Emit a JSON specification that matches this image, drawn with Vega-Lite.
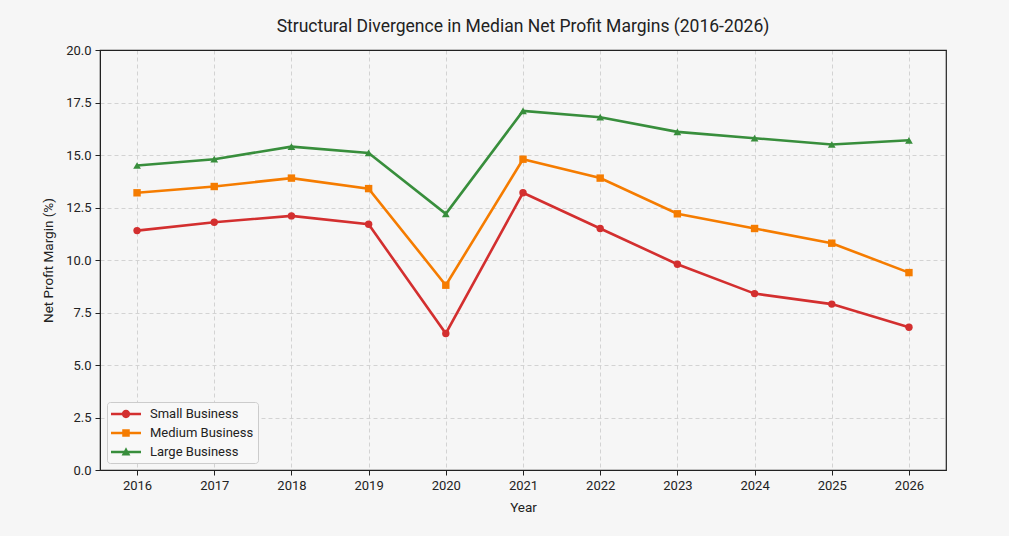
{
  "$schema": "https://vega.github.io/schema/vega-lite/v6.json",
  "description": "Median net profit margins by business size, 2016-2026.",
  "autosize": {"type": "none"},
  "width": 846,
  "height": 420,
  "padding": {"left": 100, "top": 50, "right": 63, "bottom": 66},
  "background": "#f6f6f6",
  "title": {
    "text": "Structural Divergence in Median Net Profit Margins (2016-2026)",
    "fontSize": 17.5,
    "fontWeight": "normal",
    "color": "#222",
    "offset": 9
  },
  "config": {
    "font": "Roboto",
    "view": {"fill": "#f6f6f6", "stroke": "#222", "strokeWidth": 1.2},
    "axis": {
      "labelFontSize": 13,
      "labelColor": "#222",
      "titleFontSize": 13.5,
      "titleFontWeight": "normal",
      "titleColor": "#222",
      "domainColor": "#222",
      "tickColor": "#222",
      "tickSize": 5,
      "gridColor": "#cfcfcf",
      "gridDash": [4, 3],
      "gridWidth": 0.9
    }
  },
  "data": {
    "values": [
      {"year": 2016, "business": "Small Business", "margin": 11.4},
      {"year": 2017, "business": "Small Business", "margin": 11.8},
      {"year": 2018, "business": "Small Business", "margin": 12.1},
      {"year": 2019, "business": "Small Business", "margin": 11.7},
      {"year": 2020, "business": "Small Business", "margin": 6.5},
      {"year": 2021, "business": "Small Business", "margin": 13.2},
      {"year": 2022, "business": "Small Business", "margin": 11.5},
      {"year": 2023, "business": "Small Business", "margin": 9.8},
      {"year": 2024, "business": "Small Business", "margin": 8.4},
      {"year": 2025, "business": "Small Business", "margin": 7.9},
      {"year": 2026, "business": "Small Business", "margin": 6.8},
      {"year": 2016, "business": "Medium Business", "margin": 13.2},
      {"year": 2017, "business": "Medium Business", "margin": 13.5},
      {"year": 2018, "business": "Medium Business", "margin": 13.9},
      {"year": 2019, "business": "Medium Business", "margin": 13.4},
      {"year": 2020, "business": "Medium Business", "margin": 8.8},
      {"year": 2021, "business": "Medium Business", "margin": 14.8},
      {"year": 2022, "business": "Medium Business", "margin": 13.9},
      {"year": 2023, "business": "Medium Business", "margin": 12.2},
      {"year": 2024, "business": "Medium Business", "margin": 11.5},
      {"year": 2025, "business": "Medium Business", "margin": 10.8},
      {"year": 2026, "business": "Medium Business", "margin": 9.4},
      {"year": 2016, "business": "Large Business", "margin": 14.5},
      {"year": 2017, "business": "Large Business", "margin": 14.8},
      {"year": 2018, "business": "Large Business", "margin": 15.4},
      {"year": 2019, "business": "Large Business", "margin": 15.1},
      {"year": 2020, "business": "Large Business", "margin": 12.2},
      {"year": 2021, "business": "Large Business", "margin": 17.1},
      {"year": 2022, "business": "Large Business", "margin": 16.8},
      {"year": 2023, "business": "Large Business", "margin": 16.1},
      {"year": 2024, "business": "Large Business", "margin": 15.8},
      {"year": 2025, "business": "Large Business", "margin": 15.5},
      {"year": 2026, "business": "Large Business", "margin": 15.7}
    ]
  },
  "encoding": {
    "x": {
      "field": "year",
      "type": "quantitative",
      "scale": {"domain": [2015.52, 2026.48], "nice": false, "zero": false},
      "axis": {
        "title": "Year",
        "values": [2016, 2017, 2018, 2019, 2020, 2021, 2022, 2023, 2024, 2025, 2026],
        "format": "d",
        "labelPadding": 4,
        "titlePadding": 8
      }
    },
    "y": {
      "field": "margin",
      "type": "quantitative",
      "scale": {"domain": [0, 20], "nice": false},
      "axis": {
        "title": "Net Profit Margin (%)",
        "values": [0, 2.5, 5, 7.5, 10, 12.5, 15, 17.5, 20],
        "format": ".1f",
        "labelPadding": 4,
        "titlePadding": 10,
        "gridColor": {"condition": {"test": "datum.value >= 20", "value": "#222"}, "value": "#cfcfcf"},
        "gridDash": {"condition": {"test": "datum.value >= 20", "value": []}, "value": [4, 3]},
        "gridWidth": {"condition": {"test": "datum.value >= 20", "value": 1.2}, "value": 0.9}
      }
    },
    "color": {
      "field": "business",
      "type": "nominal",
      "sort": ["Small Business", "Medium Business", "Large Business"],
      "scale": {
        "domain": ["Small Business", "Medium Business", "Large Business"],
        "range": ["#d32f2f", "#f57c00", "#388e3c"]
      },
      "legend": {
        "title": null,
        "orient": "bottom-left",
        "offset": 7,
        "fillColor": "#f8f8f8",
        "strokeColor": "#cccccc",
        "cornerRadius": 3,
        "padding": 4,
        "labelFontSize": 13,
        "labelColor": "#222",
        "symbolOffset": 7,
        "labelOffset": 16,
        "rowPadding": 4,
        "symbolSize": 256,
        "symbolStrokeWidth": 0,
        "symbolType": {
          "expr": "datum.value === 'Small Business' ? 'M-1.875,-0.16 H1.875 V0.16 H-1.875 Z M-0.52,0 A0.52,0.52 0 1,1 0.52,0 A0.52,0.52 0 1,1 -0.52,0 Z' : datum.value === 'Medium Business' ? 'M-1.875,-0.16 H1.875 V0.16 H-1.875 Z M-0.47,-0.47 H0.47 V0.47 H-0.47 Z' : 'M-1.875,-0.16 H1.875 V0.16 H-1.875 Z M0,-0.6 L0.55,0.45 L-0.55,0.45 Z'"
        },
        "encoding": {
          "symbols": {
            "fill": {"value": {"expr": "scale('color', datum.value)"}},
            "strokeWidth": {"value": 0}
          }
        }
      }
    }
  },
  "layer": [
    {
      "mark": {"type": "line", "strokeWidth": 2.6}
    },
    {
      "transform": [{"filter": "datum.business === 'Small Business'"}],
      "mark": {"type": "point", "shape": "circle", "filled": true, "opacity": 1, "size": 55}
    },
    {
      "transform": [{"filter": "datum.business === 'Medium Business'"}],
      "mark": {"type": "point", "shape": "square", "filled": true, "opacity": 1, "size": 55}
    },
    {
      "transform": [{"filter": "datum.business === 'Large Business'"}],
      "mark": {"type": "point", "shape": "triangle-up", "filled": true, "opacity": 1, "size": 60}
    }
  ]
}
